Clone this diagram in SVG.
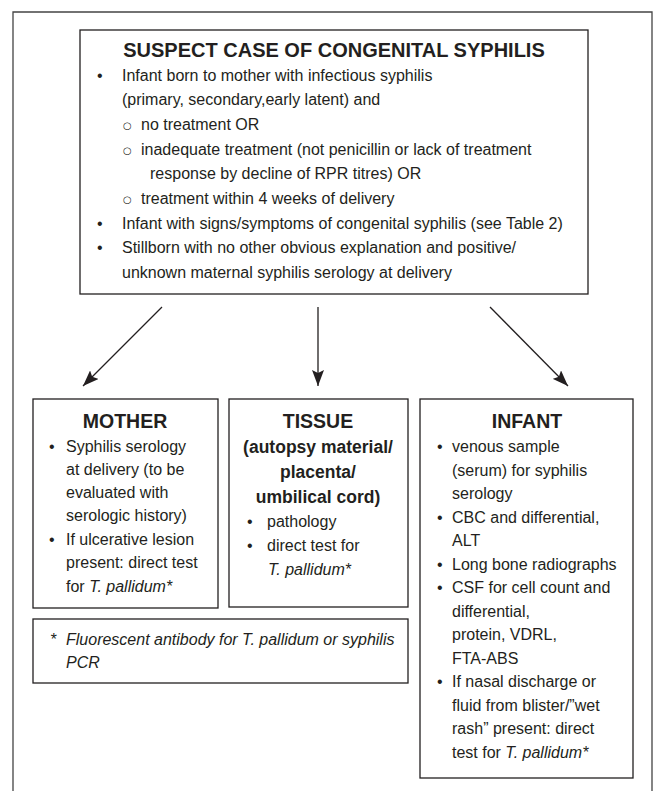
<svg xmlns="http://www.w3.org/2000/svg" width="655" height="791" viewBox="0 0 655 791">
<defs>
<marker id="ah" markerWidth="16" markerHeight="12" refX="16" refY="6" orient="auto" markerUnits="userSpaceOnUse">
<path d="M0,0 L16,6 L0,12 L3,6 Z" fill="#231f20"/>
</marker>
<style>
text{font-family:"Liberation Sans",Arial,sans-serif;fill:#231f20;}
.t{font-size:16px;}
.h{font-size:19.5px;font-weight:bold;text-anchor:middle;}
.s{font-size:17.5px;font-weight:bold;text-anchor:middle;}
.i{font-style:italic;}
.c{font-family:"DejaVu Sans",sans-serif;font-size:10px;}
.box{fill:#fff;stroke:#231f20;stroke-width:1.3;}
.conn{stroke:#231f20;stroke-width:1.3;fill:none;marker-end:url(#ah);}
</style>
</defs>
<rect width="655" height="791" fill="#fff"/>
<path d="M13,800 V12 H652 V800" fill="none" stroke="#444" stroke-width="1.3"/>
<g id="suspect">
<rect class="box" x="80" y="30" width="508" height="264"/>
<text class="h" x="334" y="57" style="font-size:20px">SUSPECT CASE OF CONGENITAL SYPHILIS</text>
<text class="t" x="97" y="81">•</text><text class="t" x="122" y="81">Infant born to mother with infectious syphilis</text>
<text class="t" x="122" y="105">(primary, secondary,early latent) and</text>
<text class="c" x="123" y="129">○</text><text class="t" x="141" y="130">no treatment OR</text>
<text class="c" x="123" y="154">○</text><text class="t" x="141" y="155">inadequate treatment (not penicillin or lack of treatment</text>
<text class="t" x="150" y="179">response by decline of RPR titres) OR</text>
<text class="c" x="123" y="203">○</text><text class="t" x="141" y="204">treatment within 4 weeks of delivery</text>
<text class="t" x="97" y="229">•</text><text class="t" x="122" y="229">Infant with signs/symptoms of congenital syphilis (see Table 2)</text>
<text class="t" x="97" y="253">•</text><text class="t" x="122" y="253">Stillborn with no other obvious explanation and positive/</text>
<text class="t" x="122" y="278">unknown maternal syphilis serology at delivery</text>
</g>
<g id="connectors">
<line class="conn" x1="162" y1="307" x2="83" y2="386"/>
<line class="conn" x1="318" y1="307" x2="318" y2="386"/>
<line class="conn" x1="490" y1="307" x2="568" y2="386"/>
</g>
<g id="mother">
<rect class="box" x="33" y="399" width="185" height="209"/>
<text class="h" x="125" y="428">MOTHER</text>
<text class="t" x="49" y="452">•</text><text class="t" x="66" y="452">Syphilis serology</text>
<text class="t" x="66" y="475">at delivery (to be</text>
<text class="t" x="66" y="498">evaluated with</text>
<text class="t" x="66" y="521">serologic history)</text>
<text class="t" x="49" y="545">•</text><text class="t" x="66" y="545">If ulcerative lesion</text>
<text class="t" x="66" y="568">present: direct test</text>
<text class="t" x="66" y="592">for <tspan class="i">T. pallidum*</tspan></text>
</g>
<g id="tissue">
<rect class="box" x="229" y="399" width="179" height="208"/>
<text class="h" x="318" y="428">TISSUE</text>
<text class="s" x="318" y="453">(autopsy material/</text>
<text class="s" x="318" y="478">placenta/</text>
<text class="s" x="318" y="503">umbilical cord)</text>
<text class="t" x="247" y="527">•</text><text class="t" x="267" y="527">pathology</text>
<text class="t" x="247" y="551">•</text><text class="t" x="267" y="551">direct test for</text>
<text class="t i" x="268" y="575">T. pallidum*</text>
</g>
<g id="footnote">
<rect class="box" x="33" y="619" width="375" height="64"/>
<text class="t i" x="50" y="645">*</text>
<text class="t i" x="66" y="645">Fluorescent antibody for T. pallidum or syphilis</text>
<text class="t i" x="66" y="668">PCR</text>
</g>
<g id="infant">
<rect class="box" x="420" y="399" width="213" height="379"/>
<text class="h" x="527" y="428">INFANT</text>
<text class="t" x="437" y="452">•</text><text class="t" x="452" y="452">venous sample</text>
<text class="t" x="452" y="475.5">(serum) for syphilis</text>
<text class="t" x="452" y="499">serology</text>
<text class="t" x="437" y="522.5">•</text><text class="t" x="452" y="522.5">CBC and differential,</text>
<text class="t" x="452" y="546">ALT</text>
<text class="t" x="437" y="569.5">•</text><text class="t" x="452" y="569.5">Long bone radiographs</text>
<text class="t" x="437" y="593">•</text><text class="t" x="452" y="593">CSF for cell count and</text>
<text class="t" x="452" y="616.5">differential,</text>
<text class="t" x="452" y="640">protein, VDRL,</text>
<text class="t" x="452" y="663.5">FTA-ABS</text>
<text class="t" x="437" y="687">•</text><text class="t" x="452" y="687">If nasal discharge or</text>
<text class="t" x="452" y="710.5">fluid from blister/”wet</text>
<text class="t" x="452" y="734">rash” present: direct</text>
<text class="t" x="452" y="757.5">test for <tspan class="i">T. pallidum*</tspan></text>
</g>
</svg>
